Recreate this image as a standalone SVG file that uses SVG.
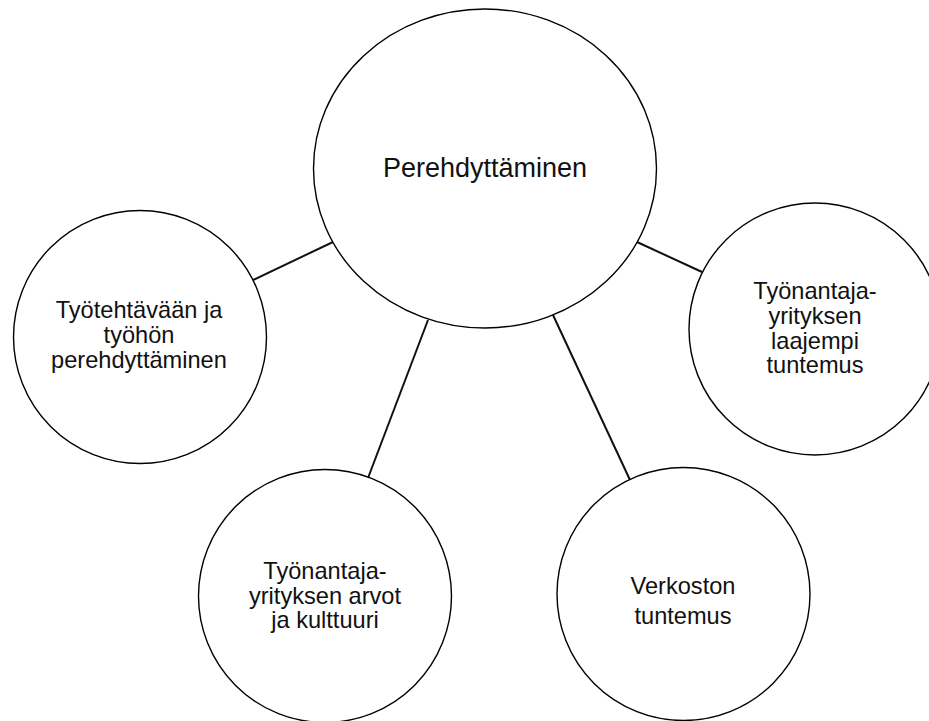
<svg xmlns="http://www.w3.org/2000/svg" width="929" height="721" viewBox="0 0 929 721">
<style>
.node{fill:#fff;stroke:#000;stroke-width:1.4}
.lbl{font-family:"Liberation Sans",Arial,sans-serif;font-size:23.6px;fill:#111;text-anchor:middle}
.big{font-size:27px}
.conn line{stroke:#111;stroke-width:2}
</style>
<rect width="929" height="721" fill="#fff"/>
<g id="connectors" class="conn">
<line x1="253" y1="280" x2="333" y2="242"/>
<line x1="637" y1="242" x2="702" y2="272"/>
<line x1="428" y1="320" x2="368" y2="478"/>
<line x1="553" y1="315" x2="630" y2="480"/>
</g>
<g id="n-center">
<ellipse class="node" cx="485" cy="168.5" rx="171.5" ry="159.5"/>
<text class="lbl big" x="485" y="177">Perehdyttäminen</text>
</g>
<g id="n-left">
<circle class="node" cx="140" cy="337" r="126.5"/>
<text class="lbl" x="139" y="317.5">Työtehtävään ja</text>
<text class="lbl" x="139" y="342.5">työhön</text>
<text class="lbl" x="139" y="368">perehdyttäminen</text>
</g>
<g id="n-right">
<circle class="node" cx="815" cy="329" r="126"/>
<text class="lbl" x="815" y="299">Työnantaja-</text>
<text class="lbl" x="815" y="324">yrityksen</text>
<text class="lbl" x="815" y="349">laajempi</text>
<text class="lbl" x="815" y="373">tuntemus</text>
</g>
<g id="n-bottomleft">
<circle class="node" cx="325" cy="596" r="126.5"/>
<text class="lbl" x="325" y="578.5">Työnantaja-</text>
<text class="lbl" x="325" y="603.5">yrityksen arvot</text>
<text class="lbl" x="325" y="627.5">ja kulttuuri</text>
</g>
<g id="n-bottomright">
<circle class="node" cx="683.5" cy="594" r="126.5"/>
<text class="lbl" x="683" y="593.5">Verkoston</text>
<text class="lbl" x="683" y="623.5">tuntemus</text>
</g>
</svg>
